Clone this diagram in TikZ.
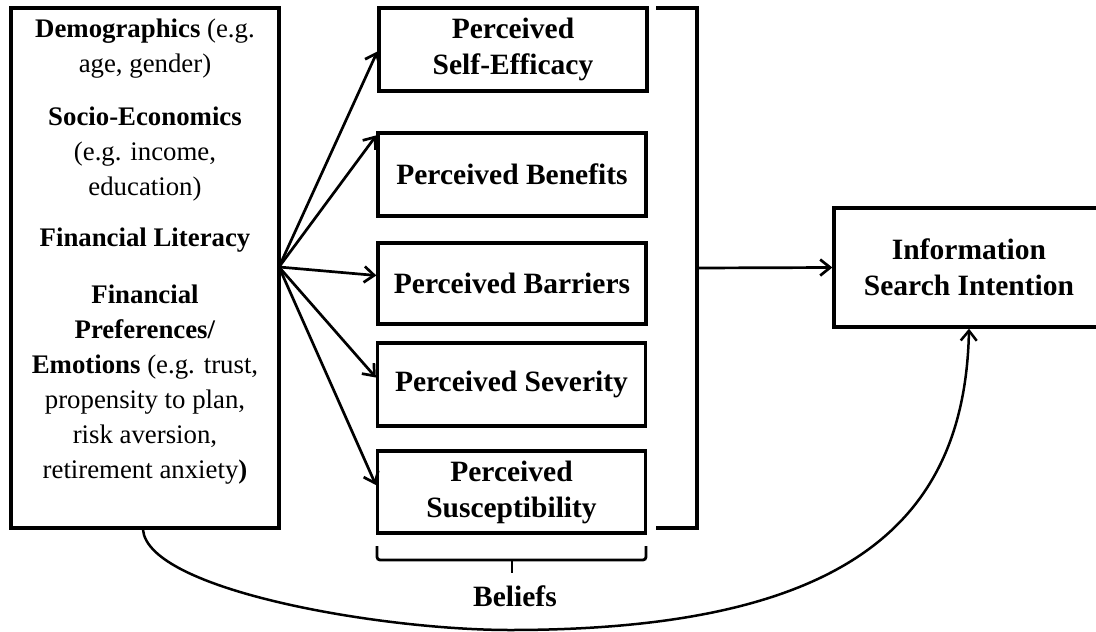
\documentclass[tikz,border=0pt]{standalone}
\usepackage{fontspec}
\setmainfont{Liberation Serif}
\usetikzlibrary{arrows.meta,calc}
\begin{document}
\begin{tikzpicture}[x=1pt,y=-1pt,
  frame/.style={draw,line width=3.3pt,inner sep=0pt},
  box/.style={frame,minimum width=268pt,align=center,font=\bfseries\fontsize{29.5}{36}\selectfont},
  arr/.style={line width=2.7pt,-{Straight Barb[length=10pt,width=16pt]}},
  lbl/.style={font=\bfseries\fontsize{29.5}{36}\selectfont}
]
\path[use as bounding box] (0,0) rectangle (1096,632);
\clip (0,0) rectangle (1096,632);

% left box
\node[frame,minimum width=268pt,minimum height=520pt] (left) at (145,268) {};
\node[anchor=north,inner sep=0pt,align=center,font=\fontsize{26.8}{35}\selectfont] (lt) at (145,19)
  {\textbf{Demographics} (e.g.\\ age, gender)\\[18pt]
   \textbf{Socio-Economics}\\ (e.g. income,\\ education)\\[16pt]
   \textbf{Financial Literacy}\\[22pt]
   \textbf{Financial}\\ \textbf{Preferences/}\\ \textbf{Emotions} (e.g. trust,\\ propensity to plan,\\ risk aversion,\\ retirement anxiety\textbf{)}};

% belief boxes
\node[box,minimum height=83pt] (pse) at (513,49.5) {Perceived\\Self-Efficacy};
\node[box,minimum height=83pt] (ben) at (512,174.5) {Perceived Benefits};
\node[box,minimum height=81pt] (bar) at (512,283.5) {Perceived Barriers};
\node[box,minimum height=83pt] (sev) at (511.5,384.5) {Perceived Severity};
\node[box,minimum height=82pt] (sus) at (511.5,492) {Perceived\\Susceptibility};

% outcome box
\node[box,minimum width=270pt,minimum height=119pt] (info) at (969,267.5) {Information\\Search Intention};

% fan of arrows
\coordinate (fan) at (279,267);
\draw[arr] (fan) -- ([yshift=-2pt]pse.west);
\draw[arr] (fan) -- ([yshift=-4pt]ben.north west);
\draw[arr] (fan) -- ([yshift=8pt]bar.west);
\draw[arr] (fan) -- ([yshift=7pt]sev.west);
\draw[arr] (fan) -- ([yshift=7pt]sus.west);

% right bracket
\draw[line width=3.3pt] (656,8) -- (697,8) -- (697,528) -- (656,528);
\coordinate (bk) at (697,268);
\draw[arr] (bk) -- (info.west);

% bottom brace
\draw[line width=2.8pt,rounded corners=3pt] (377,546) -- (377,560) -- (646,560) -- (646,546);
\coordinate (bt) at (512,560);
\draw[line width=2.8pt] (bt) -- (512,573);
\node[lbl] (beliefs) at (515,596) {Beliefs};

% long curve
\draw[arr,line width=2.5pt] ([xshift=-2pt]left.south) .. controls (148,590) and (380,630) .. (510,630)
  .. controls (850,630) and (965,520) .. (info.south);
\end{tikzpicture}
\end{document}
